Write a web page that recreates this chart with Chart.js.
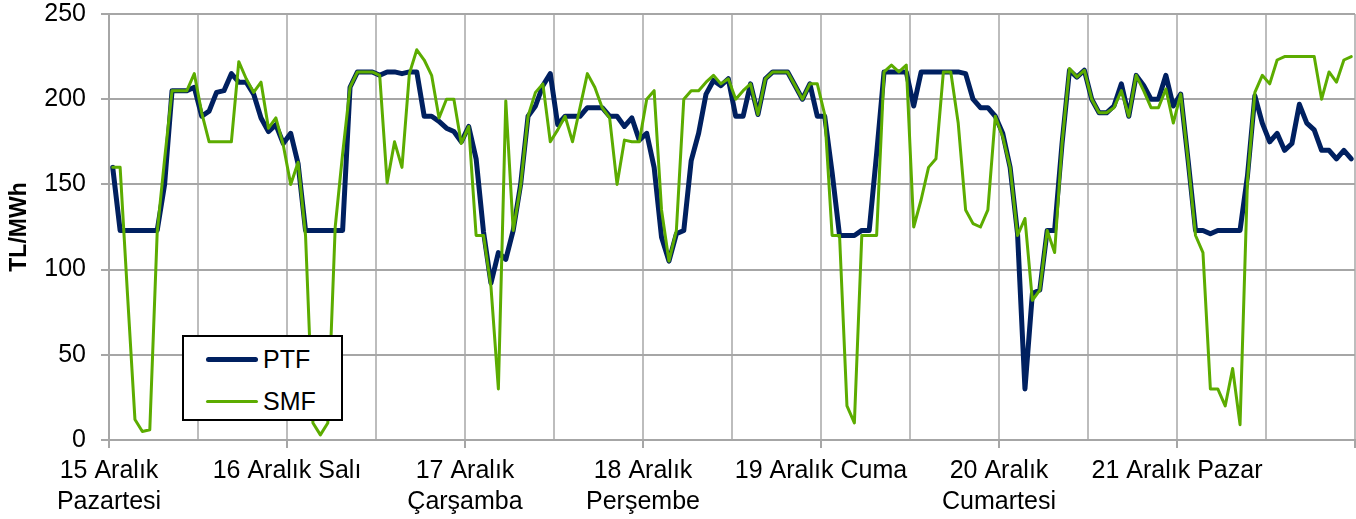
<!DOCTYPE html>
<html>
<head>
<meta charset="utf-8">
<script src="https://cdn.jsdelivr.net/npm/chart.js@4"></script>
<style>
  body { margin: 0; background: #fff; }
  #wrap { position: relative; width: 1356px; height: 519px; }
  #legend { position: absolute; left: 182px; top: 335px; width: 157px; height: 82px;
            border: 2px solid #000; background: #fff; font-family: "Liberation Sans", Arial, sans-serif; font-size: 25px; }
  .item { position: absolute; left: 0; height: 30px; }
  .swatch { position: absolute; left: 22px; width: 52px; border-radius: 3px; }
  .lbl { position: absolute; left: 79px; line-height: 30px; top: 0; }
</style>
</head>
<body>
<div id="wrap">
  <canvas id="chart" width="1356" height="519"></canvas>
  <div id="legend"></div>
</div>
<script>
// gün etiketleri (her 24 saatte bir)
var days = [['15 Aralık', 'Pazartesi'], '16 Aralık Salı', ['17 Aralık', 'Çarşamba'],
            ['18 Aralık', 'Perşembe'], '19 Aralık Cuma', ['20 Aralık', 'Cumartesi'], '21 Aralık Pazar'];
var yTicks = [0, 50, 100, 150, 200, 250];

// saatlik PTF (TL/MWh)
var ptf = [
  160,123,123,123,123,123,123,150,205,205,205,207,190,193,204,205,215,210,210,203,189,181,185,174,
  180,162,123,123,123,123,123,123,207,216,216,216,214,216,216,215,216,216,190,190,187,183,181,175,
  184,165,122,92,110,106,123,150,190,196,208,215,185,190,190,190,195,195,195,190,190,184,189,176,
  180,160,119,105,121,123,164,180,203,211,208,212,190,190,209,191,212,216,216,216,208,200,209,190,
  190,157,120,120,120,123,123,168,216,216,216,216,196,216,216,216,216,216,216,215,200,195,195,190,
  180,160,121,30,86,88,123,123,174,217,213,217,200,192,192,196,209,190,214,208,200,200,214,196,
  203,164,123,123,121,123,123,123,123,155,202,186,175,180,170,174,197,186,182,170,170,165,170,165
];

// saatlik SMF (TL/MWh)
var smf = [
  160,160,85,12,5,6,122,165,205,205,205,215,192,175,175,175,175,222,212,204,210,183,189,173,
  150,163,120,10,3,10,125,168,207,216,216,216,214,151,175,160,215,229,223,214,189,200,200,174,
  184,120,120,90,30,199,123,149,190,204,209,175,182,190,175,195,215,207,195,189,150,176,175,175,
  200,205,135,105,123,200,205,205,210,214,209,212,200,205,209,191,212,216,216,216,208,200,209,209,
  191,120,120,20,10,120,120,120,216,220,216,220,125,141,160,165,216,216,186,135,127,125,135,190,
  178,160,120,130,82,88,123,110,174,218,213,217,200,192,192,195,205,190,214,205,195,195,206,186,
  203,164,120,110,30,30,20,42,9,152,204,214,209,223,225,225,225,225,225,200,216,210,223,225
];

var navy = '#002060';
var green = '#5cac00';
var gridGray = '#a6a6a6';

// saat noktaları kategori ortasında
function toPoints(arr) {
    return arr.map(function(v, i) { return { x: i + 0.5, y: v }; });
}

var chart = new Chart(document.getElementById('chart').getContext('2d'), {
    type: 'line',
    data: {
        datasets: [{
            label: 'PTF',
            data: toPoints(ptf),
            borderColor: navy,
            borderWidth: 5,
            order: 1
        }, {
            label: 'SMF',
            data: toPoints(smf),
            borderColor: green,
            borderWidth: 3,
            order: 0
        }]
    },
    options: {
        responsive: false,
        animation: false,
        layout: { padding: 0 },
        elements: {
            point: { radius: 0 },
            line: { tension: 0, borderJoinStyle: 'round', borderCapStyle: 'round' }
        },
        plugins: { legend: { display: false }, tooltip: { enabled: false } },
        font: { family: '"Liberation Sans", Arial, sans-serif' },
        scales: {
            x: {
                type: 'linear',
                min: 0,
                max: 168,
                afterFit: function(scale) {
                    scale.height = 79;
                    scale.paddingRight = 1;
                    scale.paddingLeft = 0;
                },
                ticks: {
                    stepSize: 12,
                    autoSkip: false,
                    maxRotation: 0,
                    padding: 8,
                    color: '#000',
                    font: { size: 25, lineHeight: 1.22, family: '"Liberation Sans", Arial, sans-serif' },
                    callback: function(value) {
                        if (value % 24 === 0 && value / 24 < days.length) return days[value / 24];
                        return '';
                    }
                },
                grid: {
                    color: '#bdbdbd',
                    lineWidth: 2,
                    tickLength: 8,
                    tickColor: function(ctx) {
                        return ctx.tick && ctx.tick.value % 24 === 0 ? gridGray : 'rgba(0,0,0,0)';
                    }
                },
                border: { color: gridGray, width: 2 }
            },
            y: {
                min: 0,
                max: 250,
                afterFit: function(scale) {
                    scale.width = 109;
                    scale.paddingTop = 14;
                    scale.paddingBottom = 0;
                },
                afterBuildTicks: function(scale) {
                    scale.ticks = yTicks.map(function(v) { return { value: v }; });
                },
                ticks: {
                    padding: 15,
                    color: '#000',
                    font: { size: 25, family: '"Liberation Sans", Arial, sans-serif' }
                },
                grid: { color: gridGray, lineWidth: 2, tickLength: 8 },
                border: { color: gridGray, width: 2 },
                title: {
                    display: true,
                    text: 'TL/MWh',
                    color: '#000',
                    padding: { top: 6, bottom: 0 },
                    font: { size: 23, weight: 'bold', family: '"Liberation Sans", Arial, sans-serif' }
                }
            }
        }
    }
});

// gösterge kutusu
var legend = document.getElementById('legend');
chart.data.datasets.forEach(function(ds, k) {
    var item = document.createElement('div');
    item.className = 'item';
    item.style.top = (7 + k * 42) + 'px';
    var sw = document.createElement('div');
    sw.className = 'swatch';
    sw.style.background = ds.borderColor;
    sw.style.height = ds.borderWidth + 'px';
    sw.style.top = (15 - ds.borderWidth / 2) + 'px';
    var lb = document.createElement('span');
    lb.className = 'lbl';
    lb.textContent = ds.label;
    item.appendChild(sw);
    item.appendChild(lb);
    legend.appendChild(item);
});
</script>
</body>
</html>
